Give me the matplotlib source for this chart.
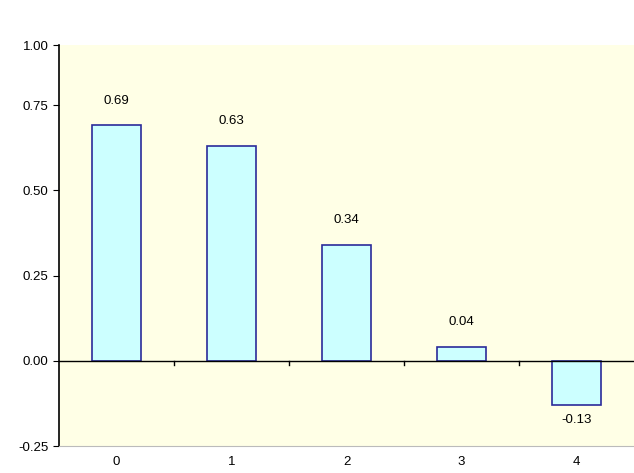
import matplotlib.pyplot as plt
import numpy as np

categories = ['0', '1', '2', '3', '4']
values = [0.69, 0.63, 0.34, 0.04, -0.13]
value_labels = ['0.69', '0.63', '0.34', '0.04', '-0.13']
yticks = [-0.25, 0.0, 0.25, 0.5, 0.75]
y_top = 0.926  # axis is cut off just below 1.00 but labelled "1.00"

plt.rcParams['font.family'] = ['Liberation Sans', 'DejaVu Sans']
fig = plt.figure(figsize=(6.34, 4.73), dpi=100)
ax = fig.add_axes([59 / 634, 27 / 473, 575 / 634, 401 / 473])
ax.set_facecolor('#FFFFE6')

x = np.arange(len(categories))
ax.bar(x, values, width=0.42, color='#CCFFFF', edgecolor='#2B2B9A', linewidth=1.2, zorder=2)
for xi, v, lab in zip(x, values, value_labels):
    if v >= 0:
        ax.text(xi, v + 0.055, lab, ha='center', va='bottom', fontsize=9.5)
    else:
        ax.text(xi, v - 0.025, lab, ha='center', va='top', fontsize=9.5)

ax.set_xlim(-0.5, len(categories) - 0.5)
ax.set_ylim(-0.25, y_top)
ax.set_yticks(yticks + [y_top])
ax.set_yticklabels([f'{t:.2f}' for t in yticks] + ['1.00'], fontsize=9.5)
ax.axhline(0, color='black', linewidth=1, zorder=3)
# category ticks on the zero line
for b in np.arange(0.5, len(categories) - 0.5, 1):
    ax.plot([b, b], [0, -0.012], color='black', linewidth=1, zorder=3)
ax.set_xticks(x)
ax.set_xticklabels(categories, fontsize=9.5)
ax.tick_params(axis='x', length=0, pad=7)
ax.tick_params(axis='y', length=4, direction='out')
for s in ['top', 'right']:
    ax.spines[s].set_visible(False)
ax.spines['bottom'].set_color('#BBBBBB')
ax.spines['left'].set_linewidth(1.2)

fig.savefig('out.png', dpi=100)
